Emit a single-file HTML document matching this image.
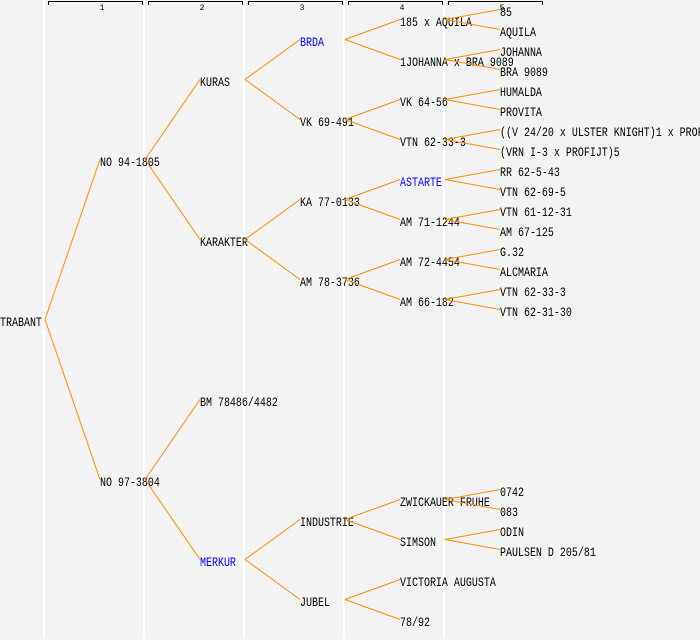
<!DOCTYPE html>
<html><head><meta charset="utf-8"><style>
html,body{margin:0;padding:0;background:#f3f3f3;}
svg{display:block}
text{font-family:"Liberation Mono",monospace;font-size:12.5px;fill:#000}
.b{fill:#0000ff}
</style></head><body>
<svg width="700" height="640" xmlns="http://www.w3.org/2000/svg">
<rect width="700" height="640" fill="#f3f3f3"/>
<g stroke="#ffffff" stroke-width="2">
<line x1="44" y1="0" x2="44" y2="638"/><line x1="144" y1="0" x2="144" y2="638"/>
<line x1="244" y1="0" x2="244" y2="638"/><line x1="344" y1="0" x2="344" y2="638"/>
<line x1="444" y1="0" x2="444" y2="638"/>
</g>
<g stroke="#000" stroke-width="1" fill="none">
<path d="M48.5 5V1.5H142.5V5"/><path d="M148.5 5V1.5H242.5V5"/><path d="M248.5 5V1.5H342.5V5"/><path d="M348.5 5V1.5H442.5V5"/><path d="M448.5 5V1.5H542.5V5"/>
</g>
<g text-anchor="middle">
<text x="102" y="10" style="font-size:8px">1</text><text x="202" y="10" style="font-size:8px">2</text><text x="302" y="10" style="font-size:8px">3</text><text x="402" y="10" style="font-size:8px">4</text><text x="502" y="10" style="font-size:8px">5</text>
</g>
<g transform="scale(0.8,1)">
<text x="0" y="326">TRABANT</text>
<text x="125" y="166">NO 94-1805</text><text x="125" y="486">NO 97-3804</text>
<text x="250" y="86">KURAS</text><text x="250" y="246">KARAKTER</text><text x="250" y="406">BM 78486/4482</text><text x="250" y="566" class="b">MERKUR</text>
<text x="375" y="46" class="b">BRDA</text><text x="375" y="126">VK 69-491</text><text x="375" y="206">KA 77-0133</text><text x="375" y="286">AM 78-3736</text><text x="375" y="526">INDUSTRIE</text><text x="375" y="606">JUBEL</text>
<text x="500" y="26">185 x AQUILA</text><text x="500" y="66">1JOHANNA x BRA 9089</text><text x="500" y="106">VK 64-56</text><text x="500" y="146">VTN 62-33-3</text><text x="500" y="186" class="b">ASTARTE</text><text x="500" y="226">AM 71-1244</text><text x="500" y="266">AM 72-4454</text><text x="500" y="306">AM 66-182</text><text x="500" y="506">ZWICKAUER FRUHE</text><text x="500" y="546">SIMSON</text><text x="500" y="586">VICTORIA AUGUSTA</text><text x="500" y="626">78/92</text>
<text x="625" y="16">85</text><text x="625" y="36">AQUILA</text><text x="625" y="56">JOHANNA</text><text x="625" y="76">BRA 9089</text><text x="625" y="96">HUMALDA</text><text x="625" y="116">PROVITA</text><text x="625" y="136">((V 24/20 x ULSTER KNIGHT)1 x PROFIJT)</text><text x="625" y="156">(VRN I-3 x PROFIJT)5</text><text x="625" y="176">RR 62-5-43</text><text x="625" y="196">VTN 62-69-5</text><text x="625" y="216">VTN 61-12-31</text><text x="625" y="236">AM 67-125</text><text x="625" y="256">G.32</text><text x="625" y="276">ALCMARIA</text><text x="625" y="296">VTN 62-33-3</text><text x="625" y="316">VTN 62-31-30</text>
<text x="625" y="496">0742</text><text x="625" y="516">083</text><text x="625" y="536">ODIN</text><text x="625" y="556">PAULSEN D 205/81</text>
</g>
<g stroke="#ff8c00" stroke-width="1" fill="none">
<path d="M45 319.5L100 159.5M45 319.5L100 479.5"/>
<path d="M145 159.5L200 79.5M145 159.5L200 239.5M145 479.5L200 399.5M145 479.5L200 559.5"/>
<path d="M245 79.5L300 39.5M245 79.5L300 119.5M245 239.5L300 199.5M245 239.5L300 279.5M245 559.5L300 519.5M245 559.5L300 599.5"/>
<path d="M345 39.5L400 19.5M345 39.5L400 59.5M345 119.5L400 99.5M345 119.5L400 139.5M345 199.5L400 179.5M345 199.5L400 219.5M345 279.5L400 259.5M345 279.5L400 299.5M345 519.5L400 499.5M345 519.5L400 539.5M345 599.5L400 579.5M345 599.5L400 619.5"/>
<path d="M445 19.5L500 9.5M445 19.5L500 29.5M445 59.5L500 49.5M445 59.5L500 69.5M445 99.5L500 89.5M445 99.5L500 109.5M445 139.5L500 129.5M445 139.5L500 149.5M445 179.5L500 169.5M445 179.5L500 189.5M445 219.5L500 209.5M445 219.5L500 229.5M445 259.5L500 249.5M445 259.5L500 269.5M445 299.5L500 289.5M445 299.5L500 309.5M445 499.5L500 489.5M445 499.5L500 509.5M445 539.5L500 529.5M445 539.5L500 549.5"/>
</g>
</svg>
</body></html>
